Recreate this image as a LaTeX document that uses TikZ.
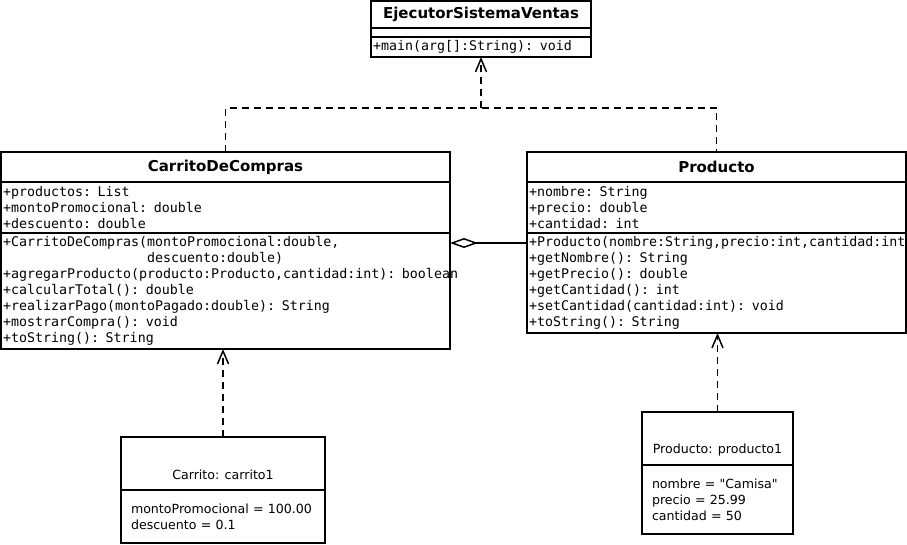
\documentclass[tikz,border=0pt]{standalone}
\usepackage{fontspec}
\setmainfont{DejaVu Sans}
\setmonofont{DejaVu Sans Mono}
\usetikzlibrary{arrows.meta}
\usetikzlibrary{calc}
\usetikzlibrary{positioning}

\begin{document}
\begin{tikzpicture}[
    x=1pt, y=1pt,
    line width=1.5pt,
    ctitle/.style={draw, outer sep=0pt, inner sep=0pt, anchor=north west, font=\fontsize{15}{18}\selectfont\bfseries},
    cpart/.style={draw, outer sep=0pt, inner xsep=2pt, inner ysep=0pt, align=left, font=\fontsize{13.3}{16}\selectfont\ttfamily},
    ohead/.style={draw, outer sep=0pt, inner sep=0pt, anchor=north west},
    oname/.style={inner sep=0pt, anchor=base, font=\fontsize{12.6}{15.5}\selectfont},
    opart/.style={draw, outer sep=0pt, inner xsep=10pt, inner ysep=0pt, align=left, font=\fontsize{12.6}{16}\selectfont},
    dline/.style={dash pattern=on 7pt off 5pt},
    dep/.style={dline, -{Straight Barb[length=13pt, width=11pt]}},
    agg/.style={{Diamond[open, fill=white, length=28pt, width=10pt]}-}
]
    \useasboundingbox (0,0) rectangle (907,-544);

    % EjecutorSistemaVentas
    \node[ctitle, minimum width=220pt, minimum height=27pt] (ej_title) at (371,-1) {EjecutorSistemaVentas};
    \node[cpart, below=0pt of ej_title, minimum width=220pt, minimum height=9pt] (ej_attr) {};
    \node[cpart, below=0pt of ej_attr, text width=216pt, minimum height=20pt] (ej_meth) {+main(arg[]:String): void};

    % CarritoDeCompras
    \node[ctitle, minimum width=449pt, minimum height=30pt] (cc_title) at (1,-152) {CarritoDeCompras};
    \node[cpart, below=0pt of cc_title, text width=445pt, minimum height=51pt] (cc_attr) {%
        +productos: List\\
        +montoPromocional: double\\
        +descuento: double};
    \node[cpart, below=0pt of cc_attr, text width=445pt, minimum height=116pt] (cc_meth) {%
        +CarritoDeCompras(montoPromocional:double,\\
        \phantom{+CarritoDeCompras(}descuento:double)\\
        \mbox{+agregarProducto(producto:Producto,cantidad:int): boolean}\\
        +calcularTotal(): double\\
        +realizarPago(montoPagado:double): String\\
        +mostrarCompra(): void\\
        +toString(): String};

    % Producto
    \node[ctitle, minimum width=379pt, minimum height=30pt] (pr_title) at (527,-152) {Producto};
    \node[cpart, below=0pt of pr_title, text width=375pt, minimum height=51pt] (pr_attr) {%
        +nombre: String\\
        +precio: double\\
        +cantidad: int};
    \node[cpart, below=0pt of pr_attr, text width=375pt, minimum height=100pt] (pr_meth) {%
        \mbox{+Producto(nombre:String,precio:int,cantidad:int}\\
        +getNombre(): String\\
        +getPrecio(): double\\
        +getCantidad(): int\\
        +setCantidad(cantidad:int): void\\
        +toString(): String};

    % objects
    \node[ohead, minimum width=204pt, minimum height=53pt] (car_head) at (121,-437) {};
    \node[oname] (car_name) at ($(car_head.south)+(0,11)$) {Carrito: carrito1};
    \node[opart, below=0pt of car_head, text width=184pt, minimum height=53pt] (car_attr) {%
        montoPromocional = 100.00\\
        descuento = 0.1};

    \node[ohead, minimum width=151pt, minimum height=53pt] (prod_head) at (642,-412) {};
    \node[oname] (prod_name) at ($(prod_head.south)+(0,12)$) {Producto: producto1};
    \node[opart, below=0pt of prod_head, text width=131pt, minimum height=69pt] (prod_attr) {%
        nombre = \textquotedbl Camisa\textquotedbl\\
        precio = 25.99\\
        cantidad = 50};

    % dependencies
    \coordinate (dep_joint) at ($(ej_meth.south)+(0,-51)$);
    \draw[dline] (cc_title.north) |- (dep_joint) -| (pr_title.north);
    \draw[dep] (dep_joint) -- (ej_meth.south);
    \draw[dep] (car_head.north) -- (car_head.north |- cc_meth.south);
    \draw[dep] (prod_head.north) -- (prod_head.north |- pr_meth.south);

    % aggregation
    \draw[agg] ($(cc_meth.north east)+(0,-10)$) -- ($(pr_meth.north west)+(0,-10)$);
\end{tikzpicture}
\end{document}
